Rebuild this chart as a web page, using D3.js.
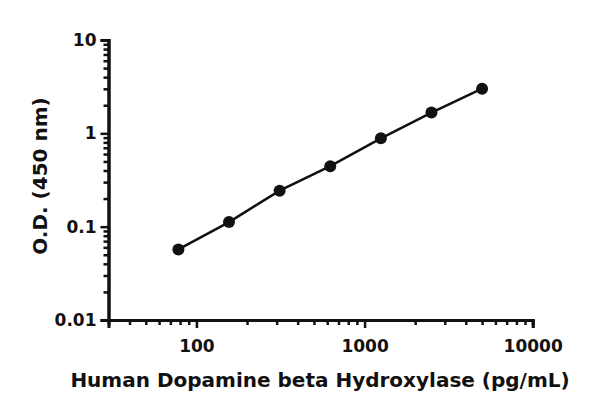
<!DOCTYPE html>
<html>
<head>
<meta charset="utf-8">
<script src="https://cdn.jsdelivr.net/npm/d3@7"></script>
<style>
  body { margin: 0; background: #fff; }
  text { font-family: "Century Gothic", "DejaVu Sans", sans-serif; font-weight: bold; fill: #111; }
</style>
</head>
<body>
<div id="chart-area"></div>
<script>
// standard curve points
var concentration = [78.125, 156.25, 312.5, 625, 1250, 2500, 5000];
var od = [0.057, 0.112, 0.243, 0.445, 0.885, 1.67, 3.01];

var xTicks = [100, 1000, 10000];
var yTicks = [0.01, 0.1, 1, 10];
var xLabelText = "Human Dopamine beta Hydroxylase (pg/mL)";
var yLabelText = "O.D. (450 nm)";

var width = 600, height = 413;
var plot = {left: 108.5, right: 532.7, top: 40, bottom: 320};

var svg = d3.select('#chart-area')
  .append('svg')
  .attr('width', width)
  .attr('height', height);

var xScale = d3.scaleLog().domain([30, 10000]).range([plot.left, plot.right]);
var yScale = d3.scaleLog().domain([0.01, 10]).range([plot.bottom, plot.top]);

// minor ticks
var xMinor = [];
[10, 100, 1000].forEach(function(d) {
  for (var k = 2; k <= 9; k++) {
    if (d * k > 30) xMinor.push(d * k);
  }
});
var yMinor = [];
[0.01, 0.1, 1].forEach(function(d) {
  for (var k = 2; k <= 9; k++) yMinor.push(d * k);
});

var xAxis = svg.append("g")
  .attr("transform", "translate(0," + plot.bottom + ")");
xAxis.append("g").call(d3.axisBottom(xScale).tickValues(xMinor).tickSize(5).tickFormat(""));
xAxis.append("g").call(d3.axisBottom(xScale).tickValues(xTicks).tickSize(8).tickPadding(12)
  .tickFormat(d3.format("d")));

var yAxis = svg.append("g")
  .attr("transform", "translate(" + plot.left + ",0)");
yAxis.append("g").call(d3.axisLeft(yScale).tickValues(yMinor).tickSize(5).tickFormat(""));
yAxis.append("g").call(d3.axisLeft(yScale).tickValues(yTicks).tickSize(8).tickPadding(4)
  .tickFormat(function(d) { return d >= 1 ? d3.format("d")(d) : String(+d.toPrecision(1)); }));

svg.selectAll(".domain").attr("stroke", "#111").attr("stroke-width", 3);
svg.selectAll(".tick line").attr("stroke", "#111").attr("stroke-width", 2.5);
svg.selectAll(".tick text").attr("font-size", "17px").attr("fill", "#111")
  .style("font-family", '"Century Gothic", "DejaVu Sans", sans-serif').style("font-weight", "bold");

// curve
var line = d3.line()
  .x(function(d, i) { return xScale(concentration[i]); })
  .y(function(d) { return yScale(d); });

svg.append("path")
  .datum(od)
  .attr("d", line)
  .attr("fill", "none")
  .attr("stroke", "#111")
  .attr("stroke-width", 2.5);

svg.selectAll("circle.pt")
  .data(od)
  .enter().append("circle")
  .attr("class", "pt")
  .attr("cx", function(d, i) { return xScale(concentration[i]); })
  .attr("cy", function(d) { return yScale(d); })
  .attr("r", 6)
  .attr("fill", "#111");

svg.append("text")
  .attr("x", 320)
  .attr("y", 387)
  .attr("text-anchor", "middle")
  .attr("font-size", "20px")
  .text(xLabelText);

svg.append("text")
  .attr("transform", "translate(47," + 176 + ") rotate(-90)")
  .attr("text-anchor", "middle")
  .attr("font-size", "20px")
  .text(yLabelText);
</script>
</body>
</html>
